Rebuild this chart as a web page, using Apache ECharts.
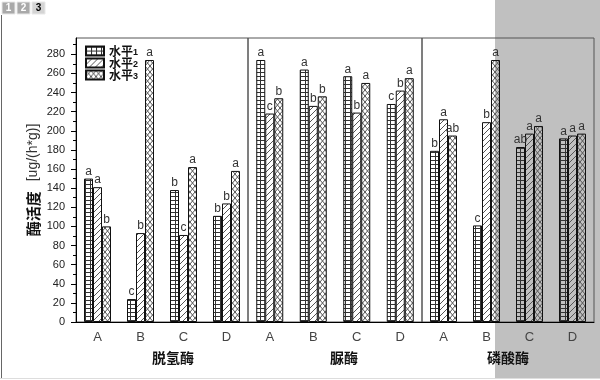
<!DOCTYPE html>
<html>
<head>
<meta charset="utf-8">
<script src="https://cdn.jsdelivr.net/npm/echarts@6/dist/echarts.min.js"></script>
<style>
  html, body { margin: 0; padding: 0; background: #fff; }
  #chart { width: 600px; height: 380px; }
</style>
</head>
<body>
<div id="chart"></div>
<script>
// Enzyme activity under three treatment levels, three enzymes side by side
const categories = ['A', 'B', 'C', 'D'];
const panelNames = ['脱氢酶', '脲酶', '磷酸酶'];
const levelNames = ['水平1', '水平2', '水平3'];

// values per enzyme panel, ug/(h*g)
const level1 = [[150, 24, 138, 111], [274, 264, 257, 228], [179, 101, 183, 192]];
const level2 = [[141, 93, 91, 124], [218, 226, 219, 242], [212, 209, 197, 195]];
const level3 = [[100, 274, 162, 158], [234, 236, 250, 255], [195, 274, 205, 197]];

// significance letters per bar
const letters1 = [['a', 'c', 'b', 'b'], ['a', 'a', 'a', 'c'], ['b', 'c', 'ab', 'a']];
const letters2 = [['a', 'b', 'c', 'b'], ['c', 'b', 'b', 'b'], ['a', 'b', 'a', 'a']];
const letters3 = [['b', 'a', 'a', 'a'], ['b', 'b', 'a', 'a'], ['ab', 'a', 'a', 'a']];

const yMajorTicks = [0, 20, 40, 60, 80, 100, 120, 140, 160, 180, 200, 220, 240, 260, 280];
const yMinorTicks = [10, 30, 50, 70, 90, 110, 130, 150, 170, 190, 210, 230, 250, 270, 290];

const levels = [level1, level2, level3];
const letters = [letters1, letters2, letters3];

function makePattern(w, h, draw) {
  const c = document.createElement('canvas');
  c.width = w; c.height = h;
  const g = c.getContext('2d');
  draw(g, w, h);
  return { image: c, repeat: 'repeat' };
}

const patterns = [
  // square grid
  makePattern(5, 4, (g, w, h) => {
    g.fillStyle = '#333';
    g.fillRect(0, 0, w, 1);
    g.fillRect(0, 0, 1, h);
  }),
  // forward diagonal hatch
  makePattern(6, 6, (g, w, h) => {
    g.strokeStyle = '#555';
    g.lineWidth = 1;
    for (let k = -1; k <= 1; k++) {
      g.beginPath();
      g.moveTo(k * w - 1, h + 1);
      g.lineTo(k * w + w + 1, -1);
      g.stroke();
    }
  }),
  // diagonal cross hatch
  makePattern(5, 6, (g, w, h) => {
    g.strokeStyle = '#555';
    g.lineWidth = 1;
    for (let k = -1; k <= 1; k++) {
      g.beginPath();
      g.moveTo(k * w, 0);
      g.lineTo(k * w + w, h);
      g.moveTo(k * w + w, 0);
      g.lineTo(k * w, h);
      g.stroke();
    }
  })
];

const gridLefts = [76, 248, 422];
const gridWidths = [172, 174, 172];
const titlePads = [22, 18, 0];
const Y_MAX = 297;

const grids = gridLefts.map((left, i) => ({
  left: left, top: 38, width: gridWidths[i], height: 284,
  show: true, borderColor: '#555', borderWidth: 1, backgroundColor: 'transparent'
}));

const xAxes = panelNames.map((name, i) => ({
  type: 'category',
  gridIndex: i,
  data: categories,
  axisLine: { lineStyle: { color: '#000', width: 1 } },
  axisTick: { alignWithLabel: true, length: 5, lineStyle: { color: '#000' } },
  axisLabel: { fontSize: 13, color: '#444', margin: 9, fontFamily: 'Liberation Sans' },
  name: name,
  nameLocation: 'middle',
  nameGap: 29,
  nameTextStyle: {
    fontSize: 14, fontWeight: 'bold', color: '#111',
    fontFamily: 'Noto Sans CJK SC',
    padding: [0, 0, 0, titlePads[i]]
  }
}));

const yAxes = [
  {
    type: 'value', gridIndex: 0, min: 0, max: Y_MAX, position: 'left',
    axisLine: { show: true, lineStyle: { color: '#000', width: 1 } },
    axisTick: { show: true, length: 5, customValues: yMajorTicks, lineStyle: { color: '#000' } },
    axisLabel: { customValues: yMajorTicks, fontSize: 11, color: '#222', margin: 11, fontFamily: 'Liberation Sans' },
    splitLine: { show: false },
    name: '{b|酶活度}   {n|[ug/(h*g)]}',
    nameLocation: 'middle',
    nameGap: 35,
    nameTextStyle: {
      rich: {
        b: { fontSize: 15, fontWeight: 'bold', color: '#111', fontFamily: 'Noto Sans CJK SC' },
        n: { fontSize: 14, color: '#333', fontFamily: 'Liberation Sans' }
      }
    }
  },
  {
    type: 'value', gridIndex: 0, min: 0, max: Y_MAX, position: 'left', offset: 0,
    axisLine: { show: false },
    axisTick: { show: true, length: 3, customValues: yMinorTicks, lineStyle: { color: '#000' } },
    axisLabel: { show: false },
    splitLine: { show: false }
  },
  {
    type: 'value', gridIndex: 1, min: 0, max: Y_MAX,
    axisLine: { show: false }, axisTick: { show: false },
    axisLabel: { show: false }, splitLine: { show: false }
  },
  {
    type: 'value', gridIndex: 2, min: 0, max: Y_MAX,
    axisLine: { show: false }, axisTick: { show: false },
    axisLabel: { show: false }, splitLine: { show: false }
  }
];

const series = [];
panelNames.forEach((_, p) => {
  levels.forEach((lv, l) => {
    series.push({
      type: 'bar',
      name: levelNames[l],
      xAxisIndex: p,
      yAxisIndex: p === 0 ? 0 : p + 1,
      data: lv[p],
      barWidth: 9,
      barGap: '0%',
      itemStyle: { color: patterns[l], borderColor: '#111', borderWidth: 1 },
      emphasis: { disabled: true },
      label: {
        show: true, position: 'top', distance: 1,
        fontSize: 12, color: '#333', fontFamily: 'Liberation Sans',
        formatter: (prm) => letters[l][p][prm.dataIndex]
      }
    });
  });
});

const tabs = [
  { x: 2, label: '1', fill: '#a9a9a9', text: '#fff' },
  { x: 17, label: '2', fill: '#a9a9a9', text: '#fff' },
  { x: 32, label: '3', fill: '#d4d4d4', text: '#000' }
];

const graphic = [
  { type: 'rect', z: -10, silent: true, shape: { x: 495, y: 0, width: 105, height: 378 }, style: { fill: '#c0c0c0' } },
  { type: 'line', silent: true, shape: { x1: 1.5, y1: 15, x2: 1.5, y2: 378 }, style: { stroke: '#666', lineWidth: 1 } },
  { type: 'line', silent: true, shape: { x1: 0, y1: 378.5, x2: 600, y2: 378.5 }, style: { stroke: '#ddd', lineWidth: 1 } }
];
tabs.forEach(t => {
  graphic.push({ type: 'rect', silent: true, shape: { x: t.x, y: 2, width: 13, height: 12 }, style: { fill: t.fill, stroke: '#e8e8e8', lineWidth: 1 } });
  graphic.push({ type: 'text', silent: true, x: t.x + 6.5, y: 8, style: { text: t.label, fill: t.text, fontSize: 10, fontWeight: 'bold', fontFamily: 'Liberation Sans', align: 'center', verticalAlign: 'middle' } });
});

const chart = echarts.init(document.getElementById('chart'), null, { renderer: 'canvas' });
chart.setOption({
  animation: false,
  backgroundColor: '#fff',
  grid: grids,
  xAxis: xAxes,
  yAxis: yAxes,
  legend: {
    data: levelNames,
    orient: 'vertical',
    left: 80, top: 40,
    itemWidth: 18, itemHeight: 9, itemGap: 0,
    icon: 'rect',
    formatter: (name) => '{t|水平}{s|' + name.slice(2) + '}',
    textStyle: {
      rich: {
        t: { fontSize: 12, fontWeight: 'bold', color: '#111', fontFamily: 'Noto Sans CJK SC', lineHeight: 12 },
        s: { fontSize: 9, fontWeight: 'bold', color: '#111', fontFamily: 'Liberation Sans', lineHeight: 12, padding: [3, 0, 0, 0] }
      }
    }
  },
  graphic: graphic,
  series: series
});
</script>
</body>
</html>
